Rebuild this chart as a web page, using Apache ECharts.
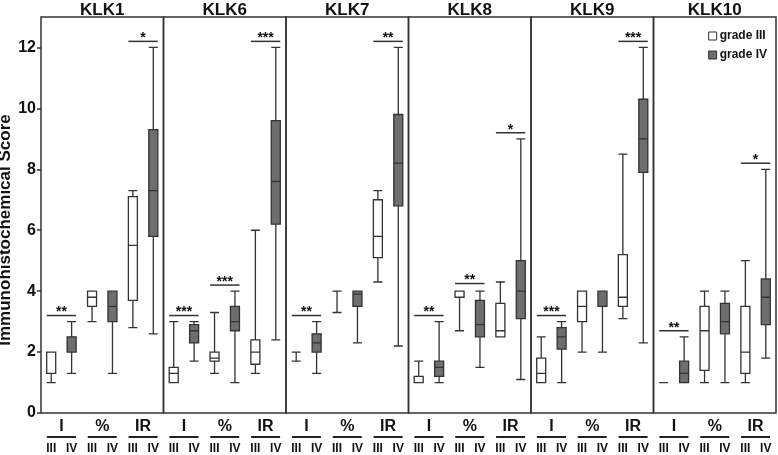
<!DOCTYPE html>
<html>
<head>
<meta charset="utf-8">
<script src="https://cdn.jsdelivr.net/npm/echarts@6/dist/echarts.min.js"></script>
<style>html,body{margin:0;padding:0;background:#fff;}#c{width:778px;height:455px;}</style>
</head>
<body>
<div id="c"></div>
<script>
// ---- data ----
const panelNames = ['KLK1', 'KLK6', 'KLK7', 'KLK8', 'KLK9', 'KLK10'];
const groupLabels = ['I', '%', 'IR'];
const gradeLabels = ['III', 'IV', 'III', 'IV', 'III', 'IV'];
const yTicks = [0, 2, 4, 6, 8, 10, 12];
const seriesNames = ['grade III', 'grade IV'];

// each box: [min, Q1, median, Q3, max] for groups I, %, IR
const klk1III = [[1.0, 1.3, 2.0, 2.0, 2.0], [3.0, 3.5, 3.8, 4.0, 4.0], [2.8, 3.7, 5.5, 7.1, 7.3]];
const klk1IV  = [[1.3, 2.0, 2.0, 2.5, 3.0], [1.3, 3.0, 3.5, 4.0, 4.0], [2.6, 5.8, 7.3, 9.3, 12.0]];
const klk6III = [[1.0, 1.0, 1.3, 1.5, 3.0], [1.3, 1.7, 1.8, 2.0, 3.3], [1.3, 1.6, 2.0, 2.4, 6.0]];
const klk6IV  = [[1.7, 2.3, 2.7, 2.9, 3.0], [1.0, 2.7, 3.0, 3.5, 4.0], [2.4, 6.2, 7.6, 9.6, 12.0]];
const klk7III = [[1.7, 1.7, 1.7, 1.7, 2.0], [3.3, 3.3, 3.3, 3.3, 4.0], [4.3, 5.1, 5.8, 7.0, 7.3]];
const klk7IV  = [[1.3, 2.0, 2.3, 2.6, 3.0], [2.3, 3.5, 3.9, 4.0, 4.0], [2.2, 6.8, 8.2, 9.8, 12.0]];
const klk8III = [[1.0, 1.0, 1.0, 1.2, 1.7], [2.7, 3.8, 4.0, 4.0, 4.0], [2.5, 2.5, 2.7, 3.6, 4.3]];
const klk8IV  = [[1.0, 1.2, 1.5, 1.7, 3.0], [1.5, 2.5, 2.9, 3.7, 4.0], [1.1, 3.1, 4.0, 5.0, 9.0]];
const klk9III = [[1.0, 1.0, 1.3, 1.8, 2.5], [2.0, 3.0, 3.5, 4.0, 4.0], [3.1, 3.5, 3.8, 5.2, 8.5]];
const klk9IV  = [[1.0, 2.1, 2.5, 2.8, 3.0], [2.0, 3.5, 4.0, 4.0, 4.0], [2.3, 7.9, 9.0, 10.3, 12.0]];
const klk10III = [[1.0, 1.0, 1.0, 1.0, 1.0], [1.0, 1.4, 2.7, 3.5, 4.0], [1.0, 1.3, 2.0, 3.5, 5.0]];
const klk10IV  = [[1.0, 1.0, 1.3, 1.7, 2.5], [1.0, 2.6, 3.0, 3.6, 4.0], [1.8, 2.9, 3.8, 4.4, 8.0]];

// significance bars: [group index, y level]
const klk1Sig = [[0, 3.2], [2, 12.2]];   const klk1Stars = ['**', '*'];
const klk6Sig = [[0, 3.2], [1, 4.2], [2, 12.2]]; const klk6Stars = ['***', '***', '***'];
const klk7Sig = [[0, 3.2], [2, 12.2]];   const klk7Stars = ['**', '**'];
const klk8Sig = [[0, 3.2], [1, 4.25], [2, 9.2]]; const klk8Stars = ['**', '**', '*'];
const klk9Sig = [[0, 3.2], [2, 12.2]];   const klk9Stars = ['***', '***'];
const klk10Sig = [[0, 2.7], [2, 8.2]];   const klk10Stars = ['**', '*'];

const boxesIII = [klk1III, klk6III, klk7III, klk8III, klk9III, klk10III];
const boxesIV = [klk1IV, klk6IV, klk7IV, klk8IV, klk9IV, klk10IV];
const sigs = [klk1Sig, klk6Sig, klk7Sig, klk8Sig, klk9Sig, klk10Sig];
const stars = [klk1Stars, klk6Stars, klk7Stars, klk8Stars, klk9Stars, klk10Stars];

// ---- layout / style ----
const FONT = "'Liberation Sans', Arial, sans-serif";
const plotLeft = 41, plotRight = 776, plotTop = 17, plotBottom = 413;
const pw = (plotRight - plotLeft) / panelNames.length;
const ink = '#333';
const EMPTY = ['-', '-', '-', '-', '-'];

const grids = [], xAxes = [], yAxes = [], series = [], titles = [];
panelNames.forEach(function (name, p) {
  grids.push({
    left: plotLeft + p * pw, top: plotTop, width: pw, height: plotBottom - plotTop,
    show: true, borderColor: ink, borderWidth: 1.5, backgroundColor: 'transparent',
    containLabel: false, outerBoundsMode: 'none'
  });
  titles.push({
    text: name, left: plotLeft + (p + 0.5) * pw, top: 0, textAlign: 'center', padding: 0,
    textStyle: { fontFamily: FONT, fontWeight: 'bold', fontSize: 17, color: '#111', lineHeight: 20 }
  });
  // axis for grade III boxes (visible labels III/IV)
  xAxes.push({
    type: 'category', gridIndex: p, data: gradeLabels, position: 'bottom', boundaryGap: true,
    axisLine: { show: false }, axisTick: { show: false }, splitLine: { show: false },
    axisLabel: { margin: 29, interval: 0, fontFamily: FONT, fontWeight: 'bold', fontSize: 12, lineHeight: 13, color: '#111' }
  });
  // axis for grade IV boxes (hidden duplicate, avoids side-by-side offset)
  xAxes.push({ type: 'category', gridIndex: p, data: gradeLabels, position: 'bottom', boundaryGap: true, show: false });
  // axis for group labels with underline
  xAxes.push({
    type: 'category', gridIndex: p, data: groupLabels, position: 'bottom', boundaryGap: true,
    axisLine: { show: false }, axisTick: { show: false }, splitLine: { show: false },
    axisLabel: {
      margin: 5, interval: 0,
      formatter: function (v) { return '{t|' + v + '}\n{u| }'; },
      rich: {
        t: { fontFamily: FONT, fontWeight: 'bold', fontSize: 16, lineHeight: 18, color: '#111' },
        u: { width: 29, height: 2, lineHeight: 2, fontSize: 1, backgroundColor: '#222' }
      }
    }
  });
  yAxes.push(p === 0 ? {
    type: 'value', gridIndex: p, min: 0, max: 13, interval: 2,
    name: 'Immunohistochemical Score', nameLocation: 'middle', nameGap: 20,
    nameTextStyle: { fontFamily: FONT, fontWeight: 'bold', fontSize: 17, color: '#111', padding: [0, 30, 0, 0] },
    axisLine: { show: false }, splitLine: { show: false },
    axisTick: { show: true, length: 4, customValues: yTicks, lineStyle: { color: ink, width: 1.5 } },
    axisLabel: { margin: 5, customValues: yTicks, fontFamily: FONT, fontWeight: 'bold', fontSize: 16, color: '#111' }
  } : {
    type: 'value', gridIndex: p, min: 0, max: 13, interval: 2, show: false, splitLine: { show: false }
  });

  const dIII = [], dIV = [];
  boxesIII[p].forEach(function (b) { dIII.push(b); dIII.push(EMPTY); });
  boxesIV[p].forEach(function (b) { dIV.push(EMPTY); dIV.push(b); });
  series.push({
    type: 'boxplot', name: seriesNames[0], xAxisIndex: 3 * p, yAxisIndex: p,
    boxWidth: [9, 9], data: dIII,
    itemStyle: { color: '#ffffff', borderColor: ink, borderWidth: 1.3 },
    emphasis: { disabled: true }, silent: true
  });
  series.push({
    type: 'boxplot', name: seriesNames[1], xAxisIndex: 3 * p + 1, yAxisIndex: p,
    boxWidth: [9, 9], data: dIV,
    itemStyle: { color: '#6e6e6e', borderColor: ink, borderWidth: 1.3 },
    emphasis: { disabled: true }, silent: true
  });
  series.push({
    type: 'custom', xAxisIndex: 3 * p + 2, yAxisIndex: p, silent: true,
    data: sigs[p], encode: { x: 0, y: 1 },
    renderItem: function (params, api) {
      const c = api.coord([api.value(0), api.value(1)]);
      const bw = api.size([1, 0])[0];
      const half = bw * 0.36;
      return {
        type: 'group', children: [
          { type: 'line', shape: { x1: c[0] - half, y1: c[1], x2: c[0] + half, y2: c[1] },
            style: { stroke: ink, lineWidth: 1.5 } },
          { type: 'text', x: c[0], y: c[1] - 3,
            style: { text: stars[p][params.dataIndex], align: 'center', verticalAlign: 'middle',
                     fontFamily: FONT, fontWeight: 'bold', fontSize: 14, fill: '#111' } }
        ]
      };
    }
  });
});

const chart = echarts.init(document.getElementById('c'), null, { renderer: 'canvas' });
chart.setOption({
  animation: false,
  backgroundColor: '#fff',
  title: titles,
  legend: {
    orient: 'vertical', right: 6, top: 25, itemWidth: 8, itemHeight: 8, itemGap: 7, icon: 'rect',
    selectedMode: false,
    textStyle: { fontFamily: FONT, fontWeight: 'bold', fontSize: 12, color: '#111', padding: [0, 0, 0, -2] },
    data: [
      { name: seriesNames[0], itemStyle: { color: '#ffffff', borderColor: ink, borderWidth: 1 } },
      { name: seriesNames[1], itemStyle: { color: '#6e6e6e', borderColor: ink, borderWidth: 1 } }
    ]
  },
  grid: grids,
  xAxis: xAxes,
  yAxis: yAxes,
  series: series
});
</script>
</body>
</html>
